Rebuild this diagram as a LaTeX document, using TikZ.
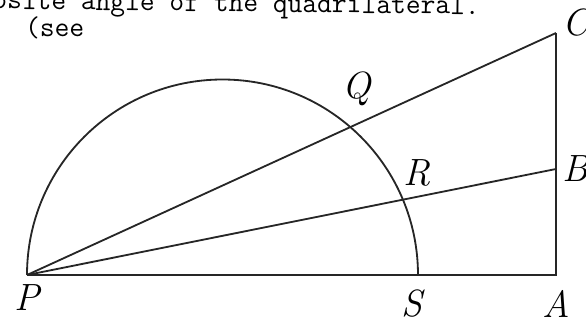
\documentclass[tikz,border=0pt]{standalone}
\usetikzlibrary{positioning, calc}

\begin{document}
\begin{tikzpicture}[
    seg/.style={draw=black!85, line width=1.3pt},
    lbl/.style={inner sep=0pt, font=\fontsize{27}{31}\selectfont\itshape},
    typed/.style={anchor=base west, inner sep=0pt, rotate=-0.67, font=\ttfamily\fontsize{20.4}{24}\selectfont}
]
    \useasboundingbox (0,0) rectangle (14.65,8.1);
    \clip (0,0) rectangle (14.65,8.1);

    \coordinate (P) at (0.675,1.225);
    \coordinate (S) at (10.45,1.225);
    \coordinate (A) at (13.9,1.225);
    \coordinate (B) at (13.9,3.875);
    \coordinate (C) at (13.9,7.275);
    \coordinate (Q) at ($(P)!0.6112!(C)$);
    \coordinate (R) at ($(P)!0.7106!(B)$);

    \node[typed] (line1) at (-0.2,7.88) {osite angle of the quadrilateral.};
    \node[typed] (line2) at (0.62,7.2) {(see};

    \draw[seg] (P) arc[start angle=180, end angle=0, radius=4.8875];
    \draw[seg] (P) -- (A) -- (C);
    \draw[seg] (P) -- (C);
    \draw[seg] (P) -- (B);

    \node[lbl, below=0.24cm of P] (lblP) {P};
    \node[lbl, below=0.36cm of S, xshift=-1.5mm] (lblS) {S};
    \node[lbl, below=0.38cm of A] (lblA) {A};
    \node[lbl, right=0.15cm of B] (lblB) {B};
    \node[lbl, right=0.15cm of C, yshift=0.25cm] (lblC) {C};
    \node[lbl, above=0.52cm of Q, xshift=0.16cm] (lblQ) {Q};
    \node[lbl, above=0.33cm of R, xshift=0.35cm] (lblR) {R};
\end{tikzpicture}
\end{document}
